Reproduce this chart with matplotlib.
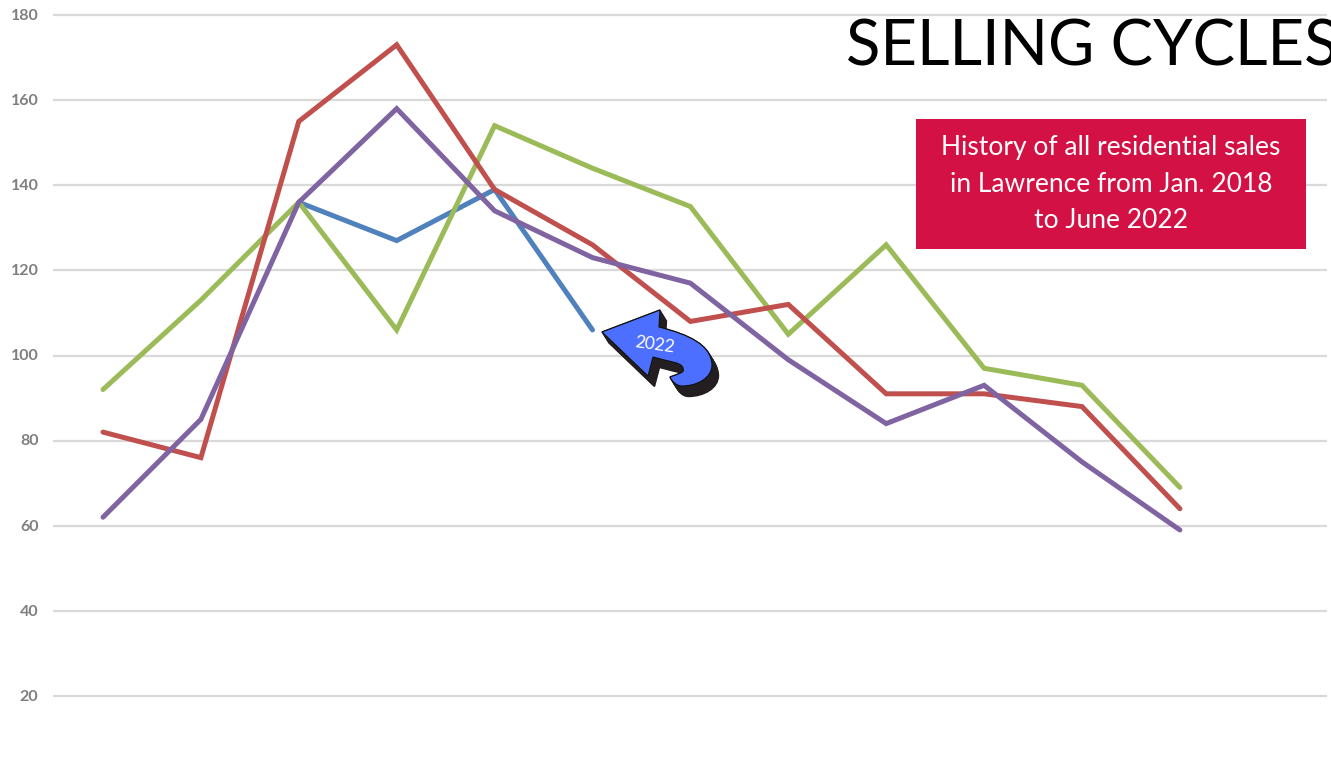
import numpy as np
import matplotlib
matplotlib.use("Agg")
import matplotlib.pyplot as plt
from matplotlib.path import Path
from matplotlib.patches import PathPatch, Rectangle
from matplotlib.transforms import Affine2D

W, H = 1331, 761
months = list(range(12))
y_ticks = [20, 40, 60, 80, 100, 120, 140, 160, 180]
nan = float("nan")
series_2022 = [nan, nan, 136, 127, 139, 106, nan, nan, nan, nan, nan, nan]
series_red = [82, 76, 155, 173, 139, 126, 108, 112, 91, 91, 88, 64]
series_green = [92, 113, 136, 106, 154, 144, 135, 105, 126, 97, 93, 69]
series_purple = [62, 85, 136, 158, 134, 123, 117, 99, 84, 93, 75, 59]

title = "SELLING CYCLES"
note = "History of all residential sales\nin Lawrence from Jan. 2018\nto June 2022"

plt.rcParams["font.family"] = ["Lato", "DejaVu Sans"]
fig = plt.figure(figsize=(W / 100, H / 100), dpi=100, facecolor="white")
ax = fig.add_axes([0, 0, 1, 1])

# pixel -> data mapping of the plot
x0, dx = 103, 97.9
y180, ppu = 15, 681 / 160
ax.set_xlim(-x0 / dx, (W - x0) / dx)
ax.set_ylim(180 - (H - y180) / ppu, 180 + y180 / ppu)
ax.axis("off")

px = Affine2D().scale(1 / W, -1 / H).translate(0, 1) + fig.transFigure

ax.hlines(y_ticks, -0.51, 12.5, color="#D9D9D9", lw=1.6, zorder=1)
for v in y_ticks:
    ax.text(-0.66, v - 0.2, str(v), ha="right", va="center", fontsize=11.5,
            fontweight="bold", color="#7F7F7F")

for vals, col in [(series_2022, "#4F81BD"), (series_green, "#9BBB59"),
                  (series_red, "#C0504D"), (series_purple, "#8064A2")]:
    ax.plot(months, vals, color=col, lw=3.6, solid_capstyle="round",
            solid_joinstyle="miter", zorder=3)

# title
fig.text(846 / W, 1 - 47 / H, title, fontsize=45.7, color="black",
         ha="left", va="center", clip_on=True)

# note box
fig.add_artist(Rectangle((916, 119), 390, 130, transform=px, facecolor="#D31145",
                         edgecolor="none"))
fig.text(1111 / W, 1 - 184 / H, note, fontsize=19, color="white", ha="center",
         va="center", linespacing=1.55)

# callout arrow
verts = [(602, 332), (660, 310), (659, 327),
         (690, 335), (711, 345), (712, 365),
         (712, 378), (697, 386), (682, 386),
         (676, 386), (672, 381), (670, 377),
         (684, 372), (684, 372), (683, 368),
         (681, 362), (670, 362), (653, 357),
         (648, 376), (602, 332)]
codes = [Path.MOVETO, Path.LINETO, Path.LINETO,
         Path.CURVE4, Path.CURVE4, Path.CURVE4,
         Path.CURVE4, Path.CURVE4, Path.CURVE4,
         Path.CURVE4, Path.CURVE4, Path.CURVE4,
         Path.CURVE4, Path.CURVE4, Path.CURVE4,
         Path.CURVE4, Path.CURVE4, Path.CURVE4,
         Path.LINETO, Path.CLOSEPOLY]
arrow = Path(verts, codes)
for k in np.linspace(0, 1, 11):
    off = Affine2D().translate(6.5 * k, 10.5 * k)
    fig.add_artist(PathPatch(arrow, transform=off + px, facecolor="#231F20",
                             edgecolor="#231F20", lw=1, zorder=5))
fig.add_artist(PathPatch(arrow, transform=px, facecolor="#4D6FFF",
                         edgecolor="#111111", lw=0.8, zorder=6))
fig.text(654.5 / W, 1 - 345 / H, "2022", fontsize=12.5, color="white", rotation=-8,
         ha="center", va="center", zorder=7)

fig.savefig("out.png", dpi=100)
